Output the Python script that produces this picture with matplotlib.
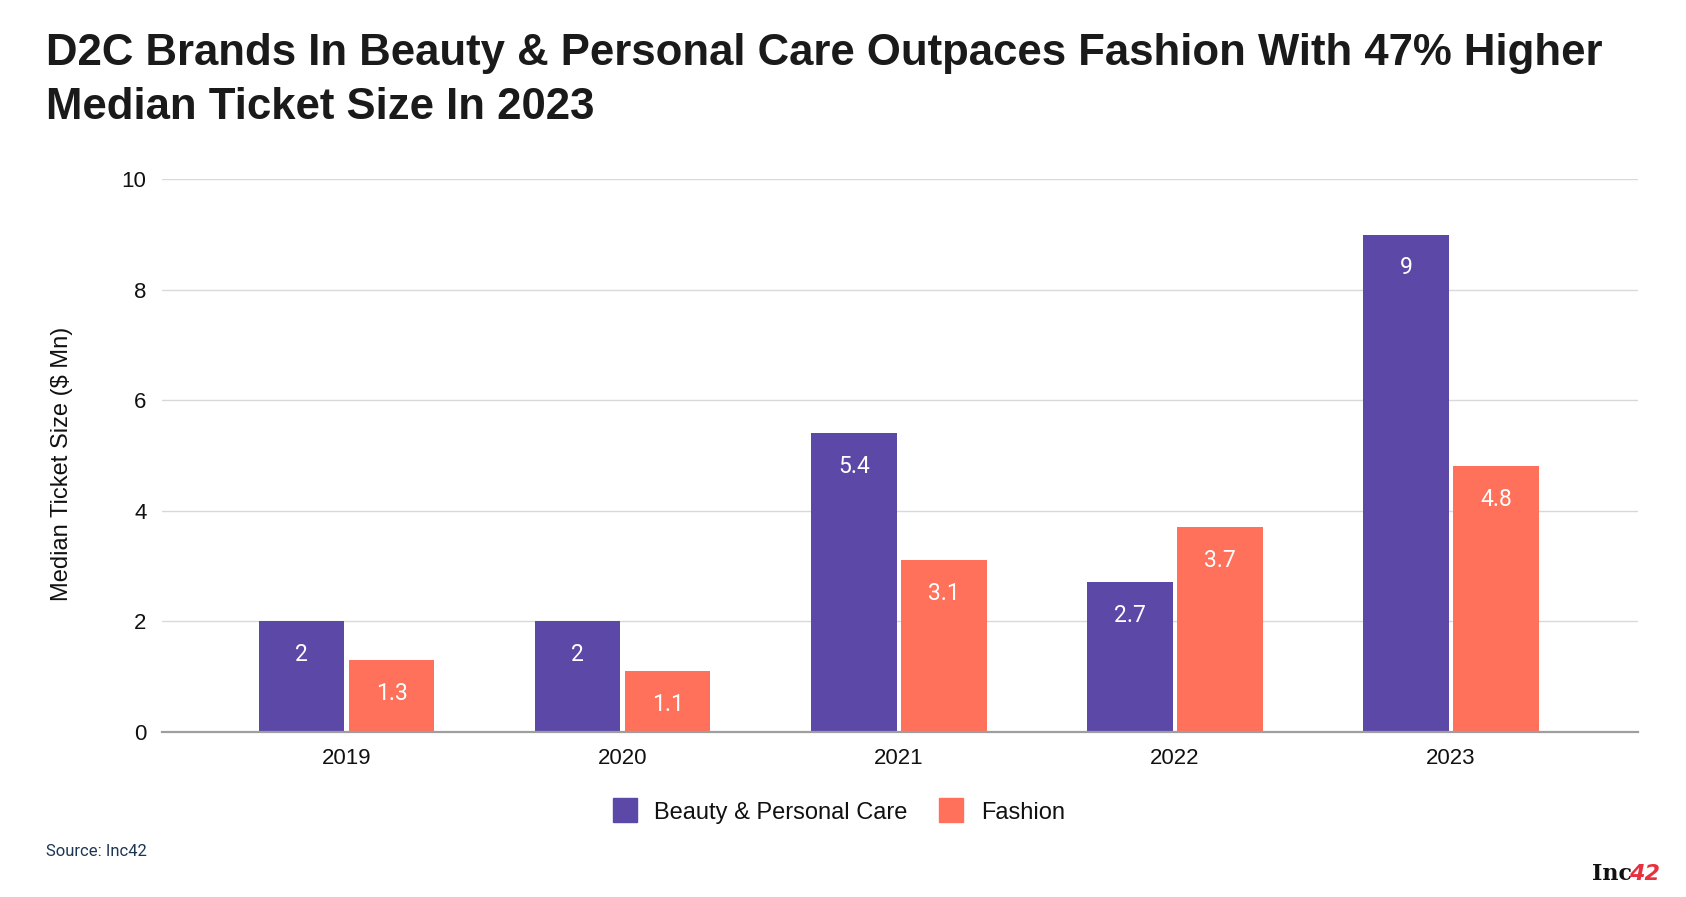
import matplotlib
matplotlib.use("Agg")
import matplotlib.pyplot as plt
import numpy as np
from matplotlib.lines import Line2D

years = ["2019", "2020", "2021", "2022", "2023"]
beauty = [2, 2, 5.4, 2.7, 9]
fashion = [1.3, 1.1, 3.1, 3.7, 4.8]
series_names = ["Beauty & Personal Care", "Fashion"]
colors = ["#5B48A7", "#FF715B"]
yticks = [0, 2, 4, 6, 8, 10]

title = "D2C Brands In Beauty & Personal Care Outpaces Fashion With 47% Higher\nMedian Ticket Size In 2023"

fig = plt.figure(figsize=(16.86, 8.97), dpi=100)
ax = fig.add_axes([0.096, 0.1845, 0.8755, 0.6155])

x = np.arange(len(years))
w = 0.31
off = 0.163
for vals, dx, c in [(beauty, -off, colors[0]), (fashion, off, colors[1])]:
    bars = ax.bar(x + dx, vals, width=w, color=c, zorder=3)
    for b, v in zip(bars, vals):
        ax.annotate(f"{v:g}", (b.get_x() + b.get_width() / 2, v),
                    xytext=(0, -24), textcoords="offset points",
                    ha="center", va="center", color="white",
                    fontsize=16.5, family="Roboto", zorder=4)

ax.set_xlim(-0.669, 4.677)
ax.set_ylim(0, 10)
ax.set_yticks(yticks)
ax.set_xticks(x)
ax.set_xticklabels(years)
ax.tick_params(axis="both", length=0, labelsize=16, colors="#111111")
ax.tick_params(axis="x", pad=12)
ax.tick_params(axis="y", pad=11)
for lab in ax.get_xticklabels() + ax.get_yticklabels():
    lab.set_family("Liberation Sans")
ax.grid(axis="y", color="#D9D9D9", linewidth=1.0, zorder=0)
for s in ["top", "right", "left"]:
    ax.spines[s].set_visible(False)
ax.spines["bottom"].set_color("#9E9E9E")
ax.spines["bottom"].set_linewidth(1.6)
ax.spines["bottom"].set_zorder(5)
ax.set_ylabel("Median Ticket Size ($ Mn)", fontsize=17, family="Liberation Sans",
              color="#111111", labelpad=27)
ax.yaxis.set_label_coords(-0.060, 0.485)

fig.text(0.027, 0.963, title, fontsize=31.5, fontweight="bold", family="Liberation Sans",
         color="#1A1A1A", va="top", ha="left", linespacing=1.4)

handles = [Line2D([], [], marker="s", linestyle="none", markersize=17,
                  markerfacecolor=c, markeredgecolor=c) for c in colors]
leg = fig.legend(handles, series_names, loc="center", bbox_to_anchor=(0.494, 0.094),
                 ncol=2, frameon=False, prop={"family": "Liberation Sans", "size": 17},
                 handletextpad=0.25, columnspacing=0.85, labelcolor="#111111")

fig.text(0.027, 0.051, "Source: Inc42", fontsize=12, family="Roboto",
         color="#1C3553", va="center", ha="left")

fig.text(0.944, 0.026, "Inc", fontsize=16, fontweight="bold", family="DejaVu Serif",
         color="#111111", va="center", ha="left")
fig.text(0.966, 0.026, "42", fontsize=16, fontweight="bold", family="DejaVu Sans",
         color="#E8313E", va="center", ha="left", style="italic")

fig.savefig("out.png", dpi=100, facecolor="white")
